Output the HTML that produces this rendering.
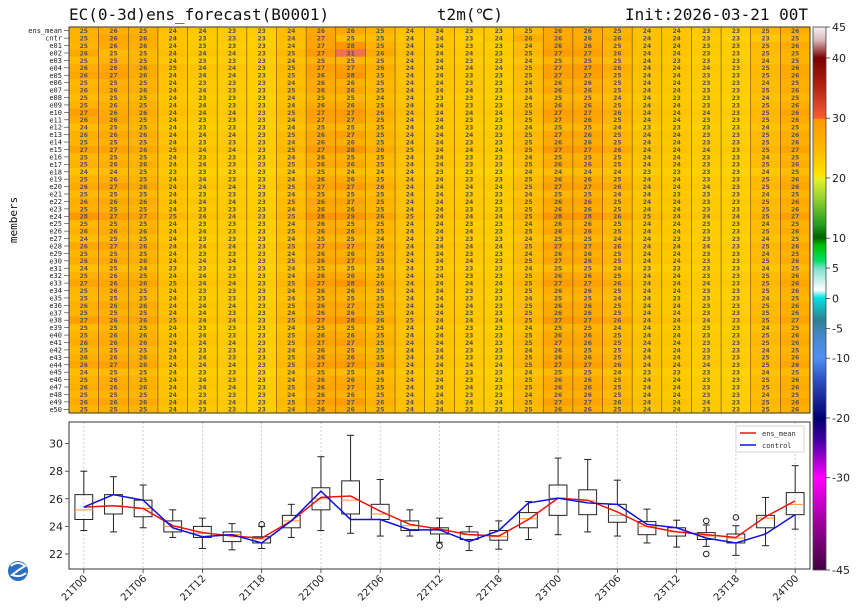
<!DOCTYPE html>
<html><head><meta charset="utf-8">
<style>
html,body{margin:0;padding:0;background:#fff;}
svg{display:block;}
.mono{font-family:"DejaVu Sans Mono","Liberation Mono",monospace;}
.sans{font-family:"DejaVu Sans","Liberation Sans",sans-serif;}
</style></head>
<body>
<svg id="chart" width="860" height="616" viewBox="0 0 860 616" xmlns="http://www.w3.org/2000/svg">
<defs>
<linearGradient id="cbar" x1="0" y1="0" x2="0" y2="1">
<stop offset="0" stop-color="#f6f0f2"/>
<stop offset="0.024" stop-color="#d8b8b8"/>
<stop offset="0.057" stop-color="#7a0000"/>
<stop offset="0.107" stop-color="#b02010"/>
<stop offset="0.155" stop-color="#e85030"/>
<stop offset="0.168" stop-color="#ff5a30"/>
<stop offset="0.170" stop-color="#ff9a00"/>
<stop offset="0.230" stop-color="#ffbb00"/>
<stop offset="0.272" stop-color="#ffe400"/>
<stop offset="0.282" stop-color="#e0f030"/>
<stop offset="0.318" stop-color="#90d030"/>
<stop offset="0.365" stop-color="#209a20"/>
<stop offset="0.388" stop-color="#006000"/>
<stop offset="0.402" stop-color="#00c000"/>
<stop offset="0.430" stop-color="#00e060"/>
<stop offset="0.445" stop-color="#80e0d0"/>
<stop offset="0.484" stop-color="#ffffff"/>
<stop offset="0.499" stop-color="#00e0e0"/>
<stop offset="0.540" stop-color="#308090"/>
<stop offset="0.576" stop-color="#4a88d8"/>
<stop offset="0.610" stop-color="#5090f0"/>
<stop offset="0.650" stop-color="#3050c0"/>
<stop offset="0.720" stop-color="#000070"/>
<stop offset="0.760" stop-color="#4000a0"/>
<stop offset="0.830" stop-color="#ff00ff"/>
<stop offset="0.910" stop-color="#a000a0"/>
<stop offset="1" stop-color="#400040"/>
</linearGradient>
</defs>
<text class="mono" x="69" y="20" font-size="16" fill="#111">EC(0-3d)ens_forecast(B0001)</text>
<text class="mono" x="470" y="20" font-size="16" fill="#111" text-anchor="middle">t2m(℃)</text>
<text class="mono" x="808" y="20" font-size="16" fill="#111" text-anchor="end">Init:2026-03-21 00T</text>
<text class="mono" x="0" y="0" font-size="11" fill="#111" text-anchor="middle" transform="translate(17,220) rotate(-90)">members</text>
<g id="heat"></g>
<g id="box"></g>
<g id="cb">
<rect x="813" y="27" width="13" height="543" fill="url(#cbar)" stroke="#444" stroke-width="0.8"/>
</g>
<g>
<circle cx="18" cy="571" r="10" fill="#2a6fc0"/>
<path d="M11 566 Q18 560 25 566 Q18 570 12 575 Q20 578 26 573" fill="none" stroke="#fff" stroke-width="2"/>
</g>
</svg>
<script>
// ---- data ----
const times = ["21T00","21T03","21T06","21T09","21T12","21T15","21T18","21T21","22T00","22T03","22T06","22T09","22T12","22T15","22T18","22T21","23T00","23T03","23T06","23T09","23T12","23T15","23T18","23T21","24T00"];
const whiskLow = [23.7,23.6,23.9,23.2,22.4,22.3,22.4,23.2,23.7,23.5,23.3,23.3,22.85,22.25,22.35,23.05,23.4,23.6,23.3,22.8,22.5,22.55,21.9,22.6,23.8];
const q1 = [24.5,24.9,24.7,23.6,23.2,22.9,22.8,23.9,25.2,24.9,24.5,23.7,23.45,23.05,23.0,23.9,24.8,24.85,24.3,23.4,23.3,23.05,22.8,23.9,24.85];
const medians = [25.2,25.5,25.3,24.0,23.5,23.4,23.1,24.4,26.0,25.9,24.9,24.05,23.75,23.4,23.25,24.55,26.05,25.85,24.8,24.0,23.6,23.3,23.15,24.6,25.6];
const q3 = [26.3,26.3,25.9,24.4,24.0,23.6,23.25,24.8,26.8,27.3,25.6,24.4,23.9,23.6,23.7,25.0,27.0,26.65,25.6,24.35,23.9,23.55,23.45,24.8,26.45];
const whiskHigh = [28.0,27.6,27.0,25.2,24.6,24.2,24.0,25.6,29.05,30.6,27.4,25.2,24.6,24.0,24.4,25.8,28.95,28.85,27.35,25.25,24.45,24.1,24.05,26.1,28.4];
const ensMean = [25.4,25.5,25.3,24.05,23.55,23.3,23.15,24.4,26.1,26.2,25.1,24.15,23.8,23.4,23.3,24.5,26.05,25.9,25.05,24.0,23.6,23.4,23.2,24.7,25.85];
const control = [25.4,26.3,25.9,23.9,23.25,23.4,22.8,24.4,26.55,24.5,24.5,23.75,23.75,22.9,23.7,25.7,26.05,25.7,25.6,24.15,23.9,23.15,22.8,23.45,24.85];
const outlierCols = [6,12,21,21,22];
const outlierVals = [24.15,22.6,24.4,22.0,24.65];
const yTicks = [22,24,26,28,30];
const cbTickLabels = ["45","40","30","20","10","5","0","-5","-10","-20","-30","-45"];
const cbTickFrac = [0,0.057,0.168,0.278,0.389,0.444,0.5,0.555,0.61,0.72,0.83,1];
const members = [
"25.0 25.9 25.6 23.8 23.4 23.1 22.9 24.1 26.5 28.4 25.3 24.1 23.6 23.2 23.0 24.3 26.4 26.2 25.0 24.2 23.7 23.4 23.3 24.8 25.9",
"26.1 24.6 24.9 24.3 23.8 23.6 23.3 24.9 27.4 30.6 26.0 24.4 23.9 23.6 23.4 24.9 27.1 26.8 25.5 24.3 23.9 23.4 23.0 24.5 25.3",
"24.6 25.2 25.0 23.6 23.1 23.0 22.8 24.0 25.3 25.0 24.6 23.8 23.5 23.1 23.0 24.0 25.1 25.4 24.5 23.8 23.4 23.1 23.0 24.2 25.1",
"25.8 26.4 26.0 24.5 24.0 23.7 23.3 24.8 26.8 27.0 25.6 24.3 23.9 23.6 23.5 25.0 26.9 27.2 25.9 24.4 24.0 23.6 23.4 24.9 26.2",
"26.3 26.9 25.8 24.2 23.7 23.5 23.2 24.5 26.4 27.5 25.2 24.1 23.8 23.4 23.3 24.6 27.0 26.9 25.3 24.1 23.7 23.4 23.2 24.7 26.0",
"24.9 25.4 25.1 23.9 23.3 23.2 22.9 24.2 25.8 25.5 24.7 23.9 23.6 23.3 23.1 24.4 25.7 25.6 24.7 23.9 23.5 23.2 23.0 24.4 25.4",
"25.5 25.8 25.6 24.1 23.6 23.4 23.0 24.6 26.2 26.3 25.0 24.2 23.8 23.5 23.3 24.7 26.3 26.1 25.0 24.1 23.7 23.3 23.2 24.6 25.7",
"24.5 24.9 24.7 23.6 23.2 23.0 22.7 23.9 25.1 24.9 24.4 23.7 23.4 23.0 22.9 23.9 24.9 24.9 24.3 23.5 23.3 23.0 22.8 24.0 24.9",
"25.3 25.6 25.4 24.0 23.5 23.4 23.1 24.3 26.0 26.1 24.9 24.0 23.7 23.4 23.2 24.5 26.0 25.9 24.8 24.0 23.6 23.3 23.1 24.6 25.6",
"27.0 26.0 25.9 24.4 23.9 23.6 23.2 24.8 26.9 27.3 25.6 24.4 23.9 23.6 23.6 25.0 27.0 26.6 25.6 24.3 23.9 23.5 23.4 24.8 26.4",
"25.9 26.3 25.3 23.9 23.4 23.3 23.1 24.4 26.6 26.9 25.2 24.0 23.7 23.3 23.2 24.6 26.6 26.3 25.2 24.0 23.6 23.3 23.1 24.7 25.9",
"24.3 25.0 24.8 23.5 23.0 22.9 22.8 23.9 25.2 24.9 24.5 23.7 23.5 23.1 23.0 23.9 24.8 24.9 24.3 23.4 23.3 23.0 22.8 23.9 24.9",
"25.6 26.2 25.7 24.2 23.7 23.5 23.2 24.7 26.3 26.8 25.3 24.2 23.8 23.5 23.4 24.8 26.5 26.4 25.1 24.2 23.8 23.4 23.3 24.7 25.8",
"25.1 25.3 25.2 23.9 23.4 23.3 23.0 24.3 25.9 25.7 24.8 24.0 23.7 23.3 23.2 24.5 25.9 25.8 24.8 23.9 23.6 23.3 23.1 24.5 25.5",
"26.6 26.6 26.2 24.6 24.1 23.7 23.3 25.0 27.2 28.1 25.8 24.5 24.0 23.7 23.6 25.2 27.3 27.0 26.0 24.4 24.0 23.6 23.4 25.0 26.5",
"24.8 25.1 24.9 23.7 23.3 23.1 22.9 24.1 25.5 25.3 24.6 23.8 23.6 23.2 23.1 24.2 25.4 25.4 24.5 23.8 23.5 23.2 23.0 24.3 25.2",
"25.4 25.7 25.5 24.1 23.6 23.4 23.1 24.5 26.1 26.2 25.0 24.1 23.8 23.4 23.3 24.6 26.2 26.0 24.9 24.0 23.7 23.3 23.2 24.6 25.7",
"23.9 24.4 24.5 23.3 22.8 22.6 22.5 23.6 24.6 24.3 24.1 23.5 23.2 22.8 22.7 23.6 24.3 24.4 23.9 23.2 23.0 22.8 22.6 23.5 24.5",
"25.2 25.5 25.3 24.0 23.5 23.4 23.1 24.4 26.0 25.9 24.9 24.0 23.7 23.4 23.3 24.5 26.0 25.8 24.8 24.0 23.6 23.3 23.2 24.6 25.6",
"26.0 26.7 26.1 24.4 23.9 23.6 23.2 24.8 26.7 27.2 25.6 24.3 23.9 23.5 23.5 25.0 27.0 26.7 25.7 24.3 23.9 23.5 23.3 24.8 26.3",
"24.6 24.8 24.7 23.7 23.2 23.1 22.8 24.0 25.2 25.1 24.5 23.8 23.5 23.1 23.0 24.0 25.0 25.1 24.4 23.6 23.4 23.1 22.9 24.1 25.0",
"25.7 26.1 25.8 24.2 23.8 23.5 23.2 24.7 26.4 26.6 25.2 24.2 23.8 23.5 23.4 24.8 26.4 26.3 25.2 24.1 23.8 23.4 23.3 24.7 25.9",
"25.3 25.4 25.2 23.9 23.4 23.3 23.0 24.3 25.9 25.8 24.8 24.0 23.7 23.4 23.2 24.5 25.9 25.8 24.8 23.9 23.6 23.3 23.1 24.5 25.5",
"27.5 27.0 26.5 24.8 24.2 23.8 23.4 25.2 27.8 28.9 26.3 24.7 24.1 23.8 23.7 25.4 27.8 27.5 26.3 24.6 24.1 23.7 23.5 25.2 26.9",
"24.9 25.3 25.0 23.8 23.3 23.2 22.9 24.2 25.6 25.4 24.7 23.9 23.6 23.2 23.1 24.3 25.6 25.5 24.6 23.8 23.5 23.2 23.0 24.4 25.3",
"25.5 25.9 25.6 24.1 23.6 23.4 23.1 24.5 26.2 26.4 25.1 24.1 23.8 23.5 23.3 24.7 26.3 26.1 25.0 24.1 23.7 23.3 23.2 24.6 25.7",
"24.4 24.7 24.6 23.6 23.1 23.0 22.7 23.9 25.0 24.8 24.4 23.7 23.4 23.0 22.9 23.9 24.9 24.9 24.3 23.5 23.3 23.0 22.8 24.0 24.9",
"26.2 26.5 26.0 24.3 23.8 23.6 23.2 24.8 26.6 27.0 25.5 24.3 23.9 23.6 23.5 24.9 26.8 26.6 25.6 24.2 23.9 23.5 23.3 24.8 26.1",
"25.0 25.2 25.1 23.8 23.4 23.2 23.0 24.2 25.7 25.6 24.7 23.9 23.6 23.3 23.1 24.4 25.7 25.6 24.7 23.9 23.5 23.2 23.1 24.4 25.4",
"25.8 26.0 25.7 24.2 23.7 23.5 23.2 24.6 26.4 26.7 25.3 24.2 23.8 23.5 23.4 24.8 26.5 26.3 25.2 24.1 23.8 23.4 23.2 24.7 25.9",
"24.2 24.5 24.4 23.4 22.9 22.8 22.6 23.7 24.8 24.5 24.2 23.6 23.3 22.9 22.8 23.7 24.6 24.6 24.0 23.3 23.1 22.9 22.7 23.7 24.6",
"25.4 25.6 25.4 24.0 23.5 23.4 23.1 24.4 26.0 26.0 24.9 24.0 23.7 23.4 23.3 24.6 26.1 25.9 24.9 24.0 23.6 23.3 23.2 24.6 25.6",
"26.5 26.4 26.3 24.5 24.0 23.7 23.3 24.9 27.0 27.6 25.7 24.4 24.0 23.6 23.6 25.1 27.1 26.8 25.8 24.3 24.0 23.6 23.4 24.9 26.3",
"25.1 25.5 25.2 23.9 23.4 23.3 23.0 24.3 25.8 25.7 24.8 24.0 23.7 23.3 23.2 24.5 25.8 25.7 24.8 23.9 23.6 23.3 23.1 24.5 25.5",
"24.7 25.0 24.8 23.7 23.2 23.1 22.8 24.0 25.3 25.2 24.5 23.8 23.5 23.1 23.0 24.1 25.2 25.2 24.4 23.6 23.4 23.1 22.9 24.2 25.0",
"25.6 26.1 25.9 24.2 23.7 23.5 23.2 24.6 26.3 26.5 25.2 24.2 23.8 23.5 23.4 24.7 26.4 26.2 25.1 24.1 23.7 23.4 23.2 24.7 25.8",
"25.2 25.3 25.3 24.0 23.5 23.3 23.1 24.4 25.9 25.9 24.9 24.0 23.7 23.4 23.2 24.5 26.0 25.8 24.8 24.0 23.6 23.3 23.1 24.6 25.6",
"26.8 26.3 26.4 24.6 24.1 23.8 23.3 25.0 27.1 27.9 25.9 24.5 24.0 23.7 23.6 25.2 27.4 27.1 26.1 24.4 24.1 23.6 23.4 25.0 26.6",
"24.5 24.9 24.8 23.6 23.1 23.0 22.8 23.9 25.2 25.0 24.5 23.8 23.5 23.1 23.0 24.0 25.1 25.1 24.4 23.5 23.3 23.0 22.9 24.1 25.0",
"25.3 25.8 25.5 24.0 23.6 23.4 23.1 24.5 26.1 26.2 25.0 24.1 23.8 23.4 23.3 24.6 26.2 26.0 24.9 24.0 23.7 23.3 23.2 24.6 25.7",
"25.9 26.2 25.8 24.3 23.8 23.5 23.2 24.7 26.5 26.8 25.4 24.3 23.9 23.5 23.4 24.9 26.6 26.4 25.3 24.2 23.8 23.4 23.3 24.7 26.0",
"24.8 25.1 24.9 23.8 23.3 23.2 22.9 24.1 25.5 25.3 24.6 23.9 23.6 23.2 23.1 24.3 25.5 25.4 24.6 23.8 23.5 23.2 23.0 24.3 25.2",
"25.5 25.7 25.6 24.1 23.6 23.4 23.1 24.5 26.2 26.3 25.1 24.1 23.8 23.4 23.3 24.7 26.2 26.1 25.0 24.1 23.7 23.3 23.2 24.6 25.7",
"26.4 26.8 26.1 24.4 23.9 23.6 23.2 24.9 26.9 27.4 25.7 24.4 23.9 23.6 23.5 25.1 27.0 26.8 25.7 24.3 24.0 23.5 23.4 24.9 26.3",
"24.3 24.6 24.5 23.5 23.0 22.9 22.7 23.8 24.9 24.7 24.3 23.6 23.4 23.0 22.9 23.8 24.7 24.8 24.1 23.4 23.2 22.9 22.7 23.9 24.7",
"25.2 25.6 25.3 24.0 23.5 23.4 23.1 24.4 26.0 26.0 24.9 24.0 23.7 23.4 23.2 24.5 26.0 25.9 24.8 24.0 23.6 23.3 23.1 24.6 25.6",
"25.7 26.0 25.7 24.2 23.7 23.5 23.2 24.6 26.4 26.6 25.3 24.2 23.8 23.5 23.4 24.8 26.4 26.3 25.2 24.1 23.8 23.4 23.2 24.7 25.8",
"24.9 25.2 25.0 23.8 23.3 23.2 23.0 24.2 25.6 25.5 24.7 23.9 23.6 23.3 23.1 24.4 25.6 25.5 24.6 23.8 23.5 23.2 23.0 24.4 25.3",
"26.0 26.3 26.0 24.4 23.9 23.6 23.2 24.8 26.7 27.1 25.5 24.3 23.9 23.6 23.5 24.9 26.8 26.6 25.5 24.3 23.9 23.5 23.3 24.8 26.2",
"25.1 25.4 25.2 23.9 23.4 23.3 23.0 24.3 25.8 25.7 24.8 24.0 23.7 23.3 23.2 24.5 25.8 25.7 24.8 23.9 23.6 23.3 23.1 24.5 25.5"
];

// ---- layout ----
const NS = "http://www.w3.org/2000/svg";
const X0 = 69, X1 = 810, CW = (X1 - X0) / times.length;
const HY0 = 27, HY1 = 413;
const BY0 = 422, BY1 = 569;
function cx(i){ return X0 + CW * (i + 0.5); }
function yv(v){ return 554 - (v - 22) * 13.8; }
function mk(tag, attrs, parent){ const e = document.createElementNS(NS, tag); for (const k in attrs) e.setAttribute(k, attrs[k]); parent.appendChild(e); return e; }
function heatColor(v){
  if (v >= 29.5) return "rgb(240,112,80)";
  let g = Math.round(242 - 12 * (v - 20));
  g = Math.max(150, Math.min(225, g));
  return "rgb(255," + g + ",0)";
}

// ---- heatmap ----
const heat = document.getElementById("heat");
const rowNames = ["ens_mean", "cntr"];
for (let i = 1; i <= 50; i++) rowNames.push("e" + String(i).padStart(2, "0"));
const rows = [ensMean, control].concat(members.map(s => s.split(" ").map(Number)));
const RH = (HY1 - HY0) / rows.length;
rows.forEach((vals, r) => {
  const y = HY0 + RH * r;
  vals.forEach((v, c) => {
    const cell = mk("rect", {x: X0 + CW * c, y: y, width: CW + 0.3, height: RH + 0.3, fill: heatColor(v)}, heat);
    
    
    const t = mk("text", {x: cx(c), y: y + RH - 1.3, "font-size": 6, "text-anchor": "middle", fill: "#555", "font-weight": "bold", class: "sans"}, heat);
    t.textContent = Math.round(v);
    
    
  });
  const lab = mk("text", {x: 62, y: y + RH - 1.2, "font-size": 7, "text-anchor": "end", fill: "#222", class: "mono"}, heat);
  lab.textContent = rowNames[r];
  
  
  mk("line", {x1: 64, x2: 69, y1: y + RH / 2, y2: y + RH / 2, stroke: "#333", "stroke-width": 0.6}, heat);
});
for (let c = 1; c < times.length; c++) {
  const l = mk("line", {x1: X0 + CW * c, x2: X0 + CW * c, y1: HY0, y2: HY1, stroke: "#5a4a10", "stroke-width": 0.6}, heat);
  
  
}
const hf = mk("rect", {x: X0, y: HY0, width: X1 - X0, height: HY1 - HY0, fill: "none", stroke: "#333", "stroke-width": 1}, heat);



// ---- boxplot ----
const box = document.getElementById("box");
for (let i = 0; i < times.length; i += 2) {
  const g = mk("line", {x1: cx(i), x2: cx(i), y1: BY0, y2: BY1, stroke: "#bbb", "stroke-width": 0.7, "stroke-dasharray": "2,2"}, box);
  
  
  mk("line", {x1: cx(i), x2: cx(i), y1: BY1, y2: BY1 + 4, stroke: "#333", "stroke-width": 0.8}, box);
  const t = mk("text", {x: 0, y: 0, "font-size": 10, "text-anchor": "end", fill: "#222", class: "sans", transform: "translate(" + (cx(i) + 4) + "," + (BY1 + 10) + ") rotate(-45)"}, box);
  t.textContent = times[i];
  
  
}
yTicks.forEach(v => {
  mk("line", {x1: X0 - 4, x2: X0, y1: yv(v), y2: yv(v), stroke: "#333", "stroke-width": 0.8}, box);
  const t = mk("text", {x: X0 - 6, y: yv(v) + 4, "font-size": 11, "text-anchor": "end", fill: "#222", class: "sans"}, box);
  t.textContent = v;
  
  
});
const BW = CW * 0.6, CAP = 7;
times.forEach((tm, i) => {
  const x = cx(i);
  const g = mk("g", {}, box);
  
  
  mk("line", {x1: x, x2: x, y1: yv(whiskHigh[i]), y2: yv(q3[i]), stroke: "#222", "stroke-width": 1}, g);
  mk("line", {x1: x, x2: x, y1: yv(q1[i]), y2: yv(whiskLow[i]), stroke: "#222", "stroke-width": 1}, g);
  mk("line", {x1: x - CAP/2, x2: x + CAP/2, y1: yv(whiskHigh[i]), y2: yv(whiskHigh[i]), stroke: "#222", "stroke-width": 1}, g);
  mk("line", {x1: x - CAP/2, x2: x + CAP/2, y1: yv(whiskLow[i]), y2: yv(whiskLow[i]), stroke: "#222", "stroke-width": 1}, g);
  mk("rect", {x: x - BW/2, y: yv(q3[i]), width: BW, height: yv(q1[i]) - yv(q3[i]), fill: "none", stroke: "#222", "stroke-width": 1}, g);
  mk("line", {x1: x - BW/2, x2: x + BW/2, y1: yv(medians[i]), y2: yv(medians[i]), stroke: "#ff9030", "stroke-width": 1}, g);
});
outlierVals.forEach((v, k) => {
  const o = mk("circle", {cx: cx(outlierCols[k]), cy: yv(v), r: 2.8, fill: "none", stroke: "#222", "stroke-width": 1}, box);
  
  
});
const meanLine = mk("polyline", {points: ensMean.map((v, i) => cx(i) + "," + yv(v)).join(" "), fill: "none", stroke: "#e8150f", "stroke-width": 1.5}, box);


const ctrlLine = mk("polyline", {points: control.map((v, i) => cx(i) + "," + yv(v)).join(" "), fill: "none", stroke: "#1010dd", "stroke-width": 1.5}, box);


const bf = mk("rect", {x: X0, y: BY0, width: X1 - X0, height: BY1 - BY0, fill: "none", stroke: "#333", "stroke-width": 1}, box);


// legend
const lg = mk("g", {}, box);


mk("rect", {x: 736, y: 426, width: 68, height: 26, fill: "#fff", stroke: "#ccc", "stroke-width": 0.8}, lg);
mk("line", {x1: 740, x2: 756, y1: 433, y2: 433, stroke: "#e8150f", "stroke-width": 1.5}, lg);
mk("line", {x1: 740, x2: 756, y1: 445, y2: 445, stroke: "#1010dd", "stroke-width": 1.5}, lg);
const l1 = mk("text", {x: 762, y: 436, "font-size": 7, fill: "#333", class: "mono"}, lg);
l1.textContent = "ens_mean";


const l2 = mk("text", {x: 762, y: 448, "font-size": 7, fill: "#333", class: "mono"}, lg);
l2.textContent = "control";



// ---- colorbar ticks ----
const cb = document.getElementById("cb");
cbTickLabels.forEach((s, k) => {
  const y = 27 + 543 * cbTickFrac[k];
  mk("line", {x1: 826, x2: 830, y1: y, y2: y, stroke: "#333", "stroke-width": 0.8}, cb);
  const t = mk("text", {x: 832, y: y + 4, "font-size": 11, fill: "#222", class: "sans"}, cb);
  t.textContent = s;
  
  
});
</script>
</body></html>
